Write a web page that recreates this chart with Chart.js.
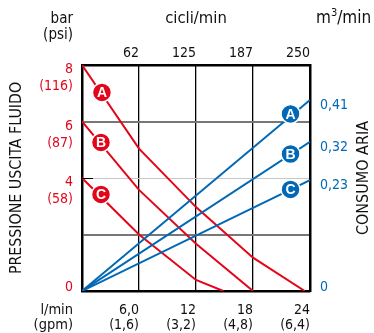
<!DOCTYPE html>
<html>
<head>
<meta charset="utf-8">
<script src="https://cdn.jsdelivr.net/npm/chart.js@4"></script>
<style>
  html, body { margin: 0; padding: 0; background: #fff; }
  #wrap { width: 374px; height: 333px; }
</style>
</head>
<body>
<div id="wrap"><canvas id="pumpChart"></canvas></div>
<script>
const FONT = "'DejaVu Sans Condensed', 'Liberation Sans', sans-serif";
const RED = "#e3061b";
const BLUE = "#0068b4";

// asse x: portata (l/min)
const flowTicks = [0, 6, 12, 18, 24];
const flowLabels = [["", ""], ["6,0", "(1,6)"], ["12", "(3,2)"], ["18", "(4,8)"], ["24", "(6,4)"]];
// asse superiore: cicli/min
const cycleTicks = [62.5, 125, 187.5, 250];
const cycleLabels = ["62", "125", "187", "250"];
// asse sinistro: pressione (bar / psi)
const pressTicks = [0, 2, 4, 6, 8];
const pressLabels = [["0", "", ""], "", ["4", "(58)"], ["6", "(87)"], ["8", "(116)"]];
// asse destro: consumo aria (m3/min)
const airTicks = [0, 0.238, 0.32, 0.41];
const airLabels = [["0", ""], "0,23", "0,32", "0,41"];

// curve pressione fluido
const flowA = [0, 6, 12, 18, 23.45];
const pressA = [8, 5.04, 2.97, 1.18, 0];
const flowB = [0, 6, 12, 18];
const pressB = [6, 3.58, 1.67, 0];
const flowC = [0, 6, 12, 14.87];
const pressC = [4, 2.0, 0.39, 0];

// consumo aria
const airFlow = [0, 24];
const airA = [0, 0.41];
const airB = [0, 0.32];
const airC = [0, 0.238];

// etichette A B C
const letters = ["A", "B", "C"];
const redMarkFlow = [2.1, 2.0, 2.0];
const redMarkPress = [7.03, 5.26, 3.42];
const blueMarkFlow = [21.95, 21.95, 21.95];
const blueMarkAir = [0.38, 0.294, 0.218];

const pts = (xs, ys) => xs.map((x, i) => ({ x: x, y: ys[i] }));

const lineDs = (xs, ys, color, axis) => ({
  data: pts(xs, ys),
  yAxisID: axis,
  showLine: true,
  borderColor: color,
  borderWidth: 2,
  pointRadius: 0,
  tension: 0,
});

const markDs = (xs, ys, color, axis) => ({
  data: pts(xs, ys),
  yAxisID: axis,
  showLine: false,
  letters: letters,
  pointRadius: 9.5,
  pointBackgroundColor: color,
  pointBorderColor: "#fff",
  pointBorderWidth: 1.5,
});

const markerLetters = {
  id: "markerLetters",
  afterDatasetsDraw(chart) {
    const ctx = chart.ctx;
    ctx.save();
    ctx.font = "bold 14px 'Liberation Sans', Arial, sans-serif";
    ctx.fillStyle = "#fff";
    ctx.textAlign = "center";
    ctx.textBaseline = "middle";
    chart.data.datasets.forEach((ds, i) => {
      if (!ds.letters) return;
      chart.getDatasetMeta(i).data.forEach((p, j) => {
        ctx.fillText(ds.letters[j], p.x, p.y + 1);
      });
    });
    ctx.restore();
  },
};

const extraText = {
  id: "extraText",
  afterDraw(chart) {
    const { ctx, chartArea } = chart;
    ctx.save();
    // piccolo segno a 4 bar sul bordo sinistro
    const y4 = Math.round(chart.scales.y.getPixelForValue(pressTicks[2])) + 0.5;
    ctx.strokeStyle = "#000";
    ctx.lineWidth = 1;
    ctx.beginPath();
    ctx.moveTo(chartArea.left, y4);
    ctx.lineTo(chartArea.left + 11, y4);
    ctx.stroke();

    ctx.fillStyle = "#111";
    ctx.textBaseline = "middle";
    ctx.font = "15px " + FONT;
    ctx.textAlign = "right";
    const lx = chartArea.left - 9;
    ctx.fillText("bar", lx, 19);
    ctx.fillText("(psi)", lx, 35);
    ctx.font = "14.5px " + FONT;
    ctx.fillText("l/min", lx, chartArea.bottom + 19);
    ctx.fillText("(gpm)", lx, chartArea.bottom + 34);

    ctx.textAlign = "left";
    ctx.font = "17px " + FONT;
    let x = chartArea.right + 6;
    ctx.fillText("m", x, 19);
    x += ctx.measureText("m").width;
    ctx.font = "11px " + FONT;
    ctx.fillText("3", x, 13);
    x += ctx.measureText("3").width;
    ctx.font = "17px " + FONT;
    ctx.fillText("/min", x, 19);

    ctx.translate(364, (chartArea.top + chartArea.bottom) / 2);
    ctx.rotate(-Math.PI / 2);
    ctx.textAlign = "center";
    ctx.font = "16px " + FONT;
    ctx.fillText("CONSUMO ARIA", 0, 0);
    ctx.restore();
  },
};

Chart.defaults.font.family = FONT;
Chart.defaults.color = "#111";

const ctx = document.getElementById("pumpChart").getContext("2d");
const pumpChart = new Chart(ctx, {
  type: "scatter",
  data: {
    datasets: [
      markDs(redMarkFlow, redMarkPress, RED, "y"),
      markDs(blueMarkFlow, blueMarkAir, BLUE, "y2"),
      lineDs(airFlow, airA, BLUE, "y2"),
      lineDs(airFlow, airB, BLUE, "y2"),
      lineDs(airFlow, airC, BLUE, "y2"),
      lineDs(flowA, pressA, RED, "y"),
      lineDs(flowB, pressB, RED, "y"),
      lineDs(flowC, pressC, RED, "y"),
    ],
  },
  options: {
    responsive: true,
    maintainAspectRatio: false,
    animation: false,
    layout: { padding: { left: 0, right: 22, top: 0, bottom: 2 } },
    plugins: { legend: { display: false }, tooltip: { enabled: false } },
    scales: {
      x: {
        type: "linear",
        position: "bottom",
        min: 0,
        max: 24,
        afterBuildTicks: (s) => { s.ticks = flowTicks.map((v) => ({ value: v })); },
        afterFit: (s) => { s.height = 40; },
        ticks: {
          callback: (v, i) => flowLabels[i],
          align: "end",
          padding: 12,
          maxRotation: 0,
          autoSkip: false,
          font: { size: 14, lineHeight: 1.08 },
        },
        grid: {
          drawTicks: false,
          color: (c) => (c.tick && (c.tick.value === 0 || c.tick.value === 24) ? "rgba(0,0,0,0)" : "#000"),
          lineWidth: 1.3,
        },
        border: { display: true, color: "#000", width: 2.5 },
      },
      x2: {
        type: "linear",
        position: "top",
        min: 0,
        max: 250,
        afterBuildTicks: (s) => { s.ticks = cycleTicks.map((v) => ({ value: v })); },
        afterFit: (s) => { s.height = 65; },
        ticks: {
          callback: (v, i) => cycleLabels[i],
          align: "end",
          padding: 3,
          maxRotation: 0,
          autoSkip: false,
          font: { size: 14 },
        },
        grid: { display: false, drawTicks: false },
        border: { display: true, color: "#000", width: 2.5 },
        title: {
          display: true,
          text: "cicli/min",
          font: { size: 16.5 },
          padding: { top: 8.5, bottom: 10 },
        },
      },
      y: {
        type: "linear",
        position: "left",
        min: 0,
        max: 8,
        afterBuildTicks: (s) => { s.ticks = pressTicks.map((v) => ({ value: v })); },
        afterFit: (s) => { s.width = 82; },
        ticks: {
          callback: (v, i) => pressLabels[i],
          color: RED,
          padding: 9,
          labelOffset: 13,
          autoSkip: false,
          font: { size: 14, lineHeight: 1.22 },
        },
        grid: {
          drawTicks: false,
          color: (c) => {
            const v = c.tick && c.tick.value;
            if (v === 2 || v === 6) return "#777";
            if (v === 4) return "#c8c8c8";
            return "rgba(0,0,0,0)";
          },
          lineWidth: (c) => (c.tick && c.tick.value === 4 ? 1 : 2),
        },
        border: { display: true, color: "#000", width: 2.5 },
        title: {
          display: true,
          text: "PRESSIONE USCITA FLUIDO",
          font: { size: 15.8 },
          padding: { top: 7.5, bottom: 10 },
        },
      },
      y2: {
        type: "linear",
        position: "right",
        min: 0,
        max: 0.485,
        afterBuildTicks: (s) => { s.ticks = airTicks.map((v) => ({ value: v })); },
        afterFit: (s) => { s.width = 42; },
        ticks: {
          callback: (v, i) => airLabels[i],
          color: BLUE,
          padding: 10,
          labelOffset: 5,
          autoSkip: false,
          font: { size: 14, lineHeight: 1.2 },
        },
        grid: { display: false, drawTicks: false },
        border: { display: true, color: "#000", width: 2.5 },
      },
    },
  },
  plugins: [markerLetters, extraText],
});
</script>
</body>
</html>
